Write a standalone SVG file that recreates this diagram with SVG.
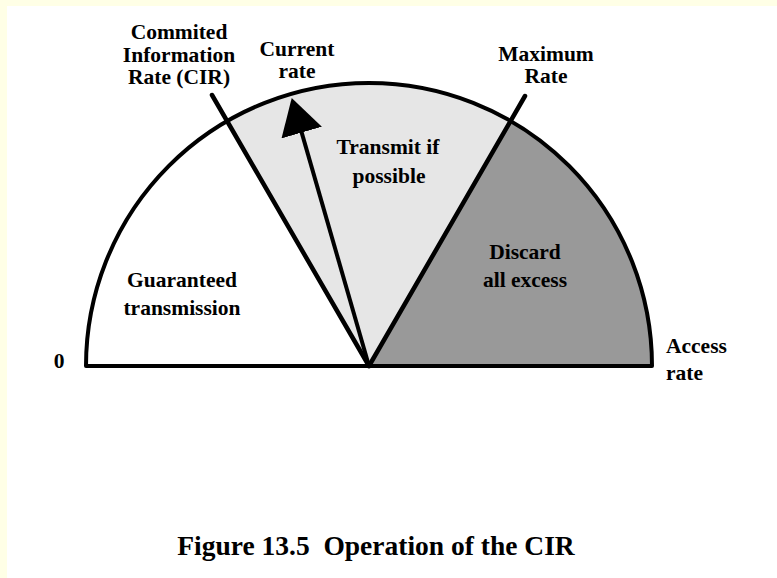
<svg xmlns="http://www.w3.org/2000/svg" width="777" height="578" viewBox="0 0 777 578">
  <style>
    text { font-family: "Liberation Serif", "Times New Roman", serif; font-weight: bold; fill: #000; }
    .lbl { font-size: 21.5px; text-anchor: middle; }
    .side { font-size: 21.5px; }
    .cap { font-size: 27.5px; text-anchor: middle; }
    .edge { fill: none; stroke: #000; stroke-width: 4; stroke-linejoin: round; }
    .ray { stroke: #000; stroke-width: 4.5; stroke-linecap: round; }
  </style>
  <defs>
    <marker id="head" markerUnits="userSpaceOnUse" viewBox="0 -21 36 42" refX="26" refY="0" markerWidth="36" markerHeight="42" orient="auto">
      <path d="M0,-21 L36,0 L0,21 Z" fill="#000"/>
    </marker>
  </defs>

  <!-- page background -->
  <rect x="0" y="0" width="777" height="578" fill="#FFFFE6"/>
  <rect x="7" y="6" width="770" height="572" fill="#FFFFFF"/>

  <!-- gauge sectors: centre (369,366), radius 283 -->
  <g id="guaranteed">
    <path d="M369,366 L86,366 A283,283 0 0 1 227.5,120.9 Z" fill="#FFFFFF"/>
    <text class="lbl" x="182" y="287">Guaranteed</text>
    <text class="lbl" x="182" y="315">transmission</text>
  </g>
  <g id="transmit">
    <path d="M369,366 L227.5,120.9 A283,283 0 0 1 510.5,120.9 Z" fill="#E6E6E6"/>
    <text class="lbl" x="388" y="154">Transmit if</text>
    <text class="lbl" x="389" y="183">possible</text>
  </g>
  <g id="discard">
    <path d="M369,366 L510.5,120.9 A283,283 0 0 1 652,366 Z" fill="#999999"/>
    <text class="lbl" x="525" y="259">Discard</text>
    <text class="lbl" x="525" y="287">all excess</text>
  </g>

  <!-- outline of the gauge -->
  <path class="edge" d="M86,366 A283,283 0 0 1 652,366 Z"/>

  <g id="connectors">
    <!-- CIR and maximum-rate markers -->
    <line class="ray" x1="369" y1="366" x2="212" y2="95"/>
    <line class="ray" x1="369" y1="366" x2="525" y2="96"/>
    <!-- current-rate pointer -->
    <line x1="369" y1="366" x2="294.5" y2="107.6" stroke="#000" stroke-width="4" marker-end="url(#head)"/>
  </g>

  <g id="cir-label">
    <text class="lbl" x="179" y="39">Commited</text>
    <text class="lbl" x="179" y="62">Information</text>
    <text class="lbl" x="179" y="84">Rate (CIR)</text>
  </g>
  <g id="current-label">
    <text class="lbl" x="297" y="56">Current</text>
    <text class="lbl" x="297" y="78">rate</text>
  </g>
  <g id="max-label">
    <text class="lbl" x="546" y="61">Maximum</text>
    <text class="lbl" x="546" y="83">Rate</text>
  </g>
  <g id="zero-label">
    <text class="lbl" x="59" y="368">0</text>
  </g>
  <g id="access-label">
    <text class="side" x="666" y="353">Access</text>
    <text class="side" x="666" y="380">rate</text>
  </g>

  <text class="cap" x="376" y="555" xml:space="preserve">Figure 13.5  Operation of the CIR</text>
</svg>
